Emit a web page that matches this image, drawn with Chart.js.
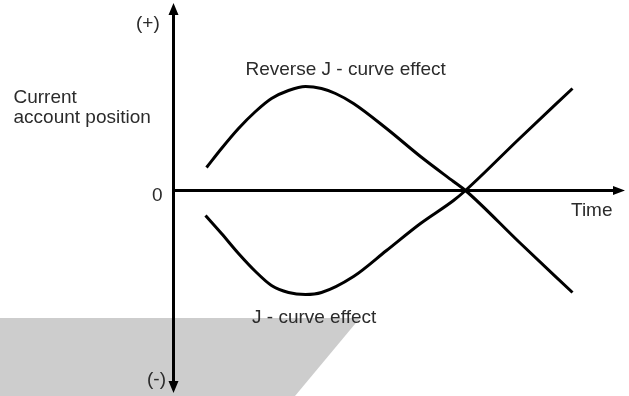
<!DOCTYPE html>
<html>
<head>
<meta charset="utf-8">
<script src="https://cdn.jsdelivr.net/npm/chart.js@4"></script>
<style>
  html, body { margin: 0; padding: 0; background: #fff; }
  #jcurve { display: block; }
</style>
</head>
<body>
<canvas id="jcurve" width="629" height="396"></canvas>
<script>
// قيم المنحنيين (وحدات زمنية اعتباطية، الصفر عند المحور الرأسي)
const reverseTime = [3.3, 4.8, 6.5, 8.2, 9.8, 11.5, 13.2, 14.8, 16.2, 18.0, 21.3, 24.7, 28.0, 29.2, 34.5, 39.9];
const reverseValues = [2.3, 4.2, 6.2, 7.9, 9.2, 10.0, 10.4, 10.2, 9.7, 8.7, 6.2, 3.4, 0.9, 0, -5.1, -10.2];
const jTime = [3.2, 4.8, 6.5, 8.2, 9.8, 11.5, 13.2, 14.8, 18.0, 21.3, 24.7, 28.0, 29.2, 34.5, 39.9];
const jValues = [-2.5, -4.3, -6.3, -8.1, -9.5, -10.2, -10.4, -10.2, -8.6, -6.0, -3.3, -1.0, 0, 5.1, 10.2];

// النصوص
const seriesLabels = ['Reverse J - curve effect', 'J - curve effect'];
const yAxisLabels = ['(+)', '0', '(-)'];
const yAxisTitle = ['Current', 'account position'];
const xAxisTitle = 'Time';

const FONT = '19px "Liberation Sans", Arial, sans-serif';
const TEXT_COLOR = '#2b2b2b';

function toPoints(xs, ys) {
    return xs.map((x, i) => ({ x: x, y: ys[i] }));
}

// المحاور والأسهم والنصوص
const sketchPlugin = {
    id: 'sketch',
    beforeDraw(chart) {
        const ctx = chart.ctx;
        ctx.save();
        ctx.fillStyle = '#fff';
        ctx.fillRect(0, 0, chart.width, chart.height);
        // الشكل الرمادي أسفل اليسار
        ctx.fillStyle = '#cdcdcd';
        ctx.beginPath();
        ctx.moveTo(0, 318);
        ctx.lineTo(360, 318);
        ctx.lineTo(295, chart.height);
        ctx.lineTo(0, chart.height);
        ctx.closePath();
        ctx.fill();
        ctx.restore();
    },
    beforeDatasetsDraw(chart) {
        const ctx = chart.ctx;
        const xs = chart.scales.x, ys = chart.scales.y;
        const x0 = xs.getPixelForValue(0);
        const y0 = ys.getPixelForValue(0);
        const yTop = ys.getPixelForValue(18.75);
        const yBot = ys.getPixelForValue(-20.25);
        const xEnd = xs.getPixelForValue(45.15);

        ctx.save();
        ctx.strokeStyle = '#000';
        ctx.fillStyle = '#000';
        ctx.lineWidth = 3;
        ctx.beginPath();
        ctx.moveTo(x0, yTop + 10);
        ctx.lineTo(x0, yBot - 10);
        ctx.moveTo(x0, y0);
        ctx.lineTo(xEnd - 10, y0);
        ctx.stroke();

        // رؤوس الأسهم
        ctx.beginPath();
        ctx.moveTo(x0, yTop);
        ctx.lineTo(x0 - 5, yTop + 12);
        ctx.lineTo(x0 + 5, yTop + 12);
        ctx.closePath();
        ctx.moveTo(x0, yBot);
        ctx.lineTo(x0 - 5, yBot - 12);
        ctx.lineTo(x0 + 5, yBot - 12);
        ctx.closePath();
        ctx.moveTo(xEnd, y0);
        ctx.lineTo(xEnd - 12, y0 - 4.5);
        ctx.lineTo(xEnd - 12, y0 + 4.5);
        ctx.closePath();
        ctx.fill();
        ctx.restore();
    },
    afterDatasetsDraw(chart) {
        const ctx = chart.ctx;
        ctx.save();
        ctx.font = FONT;
        ctx.fillStyle = TEXT_COLOR;
        ctx.textBaseline = 'alphabetic';
        ctx.textAlign = 'left';
        ctx.fillText(yAxisLabels[0], 136, 29);
        ctx.fillText(yAxisLabels[1], 152, 201);
        ctx.fillText(yAxisLabels[2], 147, 385);
        ctx.fillText(yAxisTitle[0], 13.5, 102.5);
        ctx.fillText(yAxisTitle[1], 13.5, 122.5);
        ctx.fillText(xAxisTitle, 571, 216);
        ctx.fillText(seriesLabels[0], 245.5, 75);
        ctx.fillText(seriesLabels[1], 252, 323);
        ctx.restore();
    }
};

new Chart(document.getElementById('jcurve'), {
    type: 'line',
    data: {
        datasets: [{
            label: seriesLabels[0],
            data: toPoints(reverseTime, reverseValues),
            borderColor: '#000',
            borderWidth: 3,
            pointRadius: 0,
            cubicInterpolationMode: 'monotone',
            fill: false
        }, {
            label: seriesLabels[1],
            data: toPoints(jTime, jValues),
            borderColor: '#000',
            borderWidth: 3,
            pointRadius: 0,
            cubicInterpolationMode: 'monotone',
            fill: false
        }]
    },
    options: {
        responsive: false,
        animation: false,
        layout: { padding: 0 },
        plugins: {
            legend: { display: false },
            tooltip: { enabled: false }
        },
        scales: {
            x: { type: 'linear', min: -17.35, max: 45.55, display: false },
            y: { type: 'linear', min: -20.55, max: 19.05, display: false }
        }
    },
    plugins: [sketchPlugin]
});
</script>
</body>
</html>
